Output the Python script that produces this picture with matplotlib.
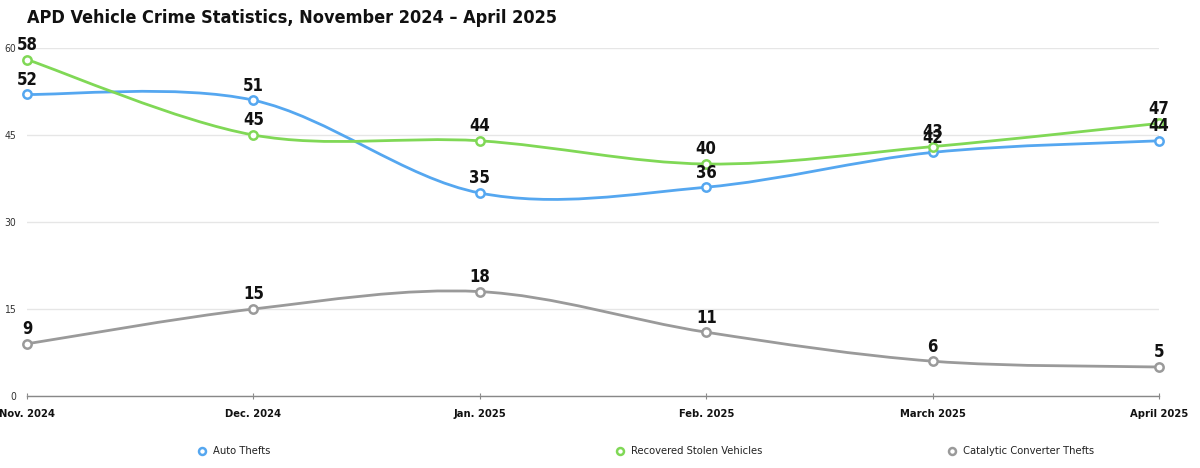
import numpy as np
import matplotlib
matplotlib.use("Agg")
import matplotlib.pyplot as plt
from matplotlib.path import Path
from matplotlib.patches import PathPatch

months = ["Nov. 2024", "Dec. 2024", "Jan. 2025", "Feb. 2025", "March 2025", "April 2025"]
auto_thefts = [52, 51, 35, 36, 42, 44]
recovered = [58, 45, 44, 40, 43, 47]
catalytic = [9, 15, 18, 11, 6, 5]
series_names = ["Auto Thefts", "Recovered Stolen Vehicles", "Catalytic Converter Thefts"]
colors = ["#55a7f0", "#80d856", "#9a9a9a"]
yticks = [0, 15, 30, 45, 60]
title = "APD Vehicle Crime Statistics, November 2024 – April 2025"

plt.rcParams["font.family"] = ["DejaVu Sans"]
plt.rcParams["font.stretch"] = "condensed"


def catmull_path(xs, ys):
    n = len(xs)
    P = [(xs[0], ys[0])] + list(zip(xs, ys)) + [(xs[-1], ys[-1])]
    verts = [(xs[0], ys[0])]
    codes = [Path.MOVETO]
    for i in range(1, n):
        p0, p1, p2, p3 = P[i - 1], P[i], P[i + 1], P[i + 2]
        c1 = (p1[0] + (p2[0] - p0[0]) / 6, p1[1] + (p2[1] - p0[1]) / 6)
        c2 = (p2[0] - (p3[0] - p1[0]) / 6, p2[1] - (p3[1] - p1[1]) / 6)
        verts += [c1, c2, p2]
        codes += [Path.CURVE4] * 3
    return Path(verts, codes)


fig = plt.figure(figsize=(12, 4.68), dpi=100)
ax = fig.add_axes([27 / 1200, 1 - 396 / 468, (1159 - 27) / 1200, (396 - 48) / 468])
x = np.arange(len(months))
ax.set_xlim(0, len(months) - 1)
ax.set_ylim(0, 60)

for s, c in zip([auto_thefts, recovered, catalytic], colors):
    p = catmull_path(list(x.astype(float)), [float(v) for v in s])
    ax.add_patch(PathPatch(p, fill=False, edgecolor=c, lw=2.0, zorder=3, clip_on=False, capstyle="round"))
    ax.plot(x, s, ls="none", marker="o", ms=6, mfc="white", mec=c, mew=1.8, zorder=4, clip_on=False)
    for xi, v in zip(x, s):
        ax.annotate(str(v), (xi, v), xytext=(0, 4), textcoords="offset points",
                    ha="center", va="bottom", fontsize=12, fontweight="bold",
                    color="#111111", zorder=5, annotation_clip=False)

ax.set_yticks(yticks)
ax.set_yticklabels([str(t) for t in yticks], fontsize=7.5, color="#333333")
ax.tick_params(axis="y", length=0, pad=8)
ax.grid(axis="y", color="#e6e6e6", lw=1)
ax.set_axisbelow(True)
ax.set_xticks(x)
ax.set_xticklabels(months, fontsize=8, fontweight="bold", color="#111111")
ax.tick_params(axis="x", length=5, direction="inout", color="#888888", pad=7)
for side in ["top", "right", "left"]:
    ax.spines[side].set_visible(False)
ax.spines["bottom"].set_color("#888888")
ax.spines["bottom"].set_linewidth(1)

fig.text(27 / 1200, 1 - 18 / 468, title, fontsize=13, fontweight="bold", ha="left", va="center", color="#111111")

# legend
lax = fig.add_axes([0, 0, 1, 1], facecolor="none")
lax.set_xlim(0, 1200)
lax.set_ylim(468, 0)
lax.axis("off")
leg_x = [202, 620, 952]
for lx, name, c in zip(leg_x, series_names, colors):
    lax.plot([lx], [451], ls="none", marker="o", ms=5, mfc="white", mec=c, mew=1.8)
    lax.text(lx + 11, 451, name, fontsize=8, va="center", ha="left", color="#222222")

fig.savefig("out.png", dpi=100)
